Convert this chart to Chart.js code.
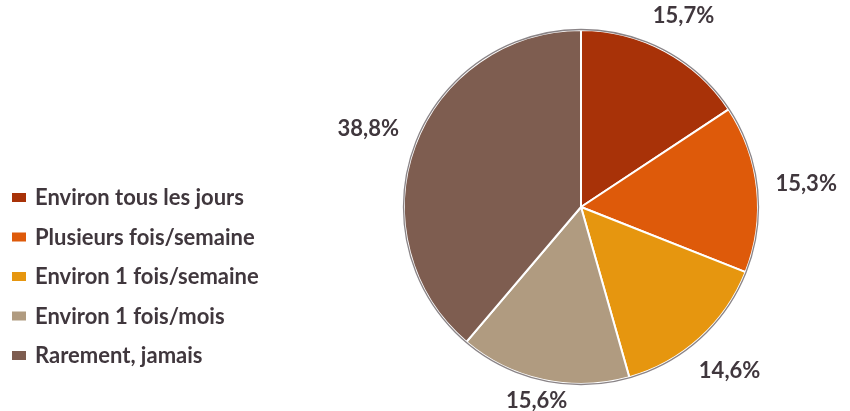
<!DOCTYPE html>
<html lang="fr">
<head>
<meta charset="utf-8">
<title>Fréquence</title>
<script src="https://cdn.jsdelivr.net/npm/chart.js@4.4.1/dist/chart.umd.min.js"></script>
<style>
  html, body { margin: 0; padding: 0; background: #fff; }
  #wrap { width: 850px; height: 411px; position: relative; }
</style>
</head>
<body>
<div id="wrap"><canvas id="chartFreq"></canvas></div>
<script>
// Catégories et parts (%)
const LABELS = ['Environ tous les jours', 'Plusieurs fois/semaine', 'Environ 1 fois/semaine', 'Environ 1 fois/mois', 'Rarement, jamais'];
const VALUES = [15.7, 15.3, 14.6, 15.6, 38.8];
const COLORS = ['#a83208', '#de5a0a', '#e6960f', '#b09b80', '#7e5d50'];

const TEXT_COLOR = '#40373d';
const FONT = 'bold 22px Lato, "Open Sans", sans-serif';

const fmt = v => v.toFixed(1).replace('.', ',') + '%';

// Légende à gauche, dessinée à la main
const sideLegend = {
  id: 'sideLegend',
  afterDraw(chart) {
    const ctx = chart.ctx;
    ctx.save();
    ctx.font = FONT;
    ctx.textBaseline = 'middle';
    LABELS.forEach((lab, i) => {
      const y = 198 + i * 39.5;
      ctx.fillStyle = COLORS[i];
      ctx.fillRect(12, y - 5, 14, 9);
      ctx.fillStyle = TEXT_COLOR;
      ctx.fillText(lab, 35, y);
    });
    ctx.restore();
  }
};

// Pourcentages à l'extérieur des parts + contour sombre
const outsideLabels = {
  id: 'outsideLabels',
  afterDatasetsDraw(chart) {
    const ctx = chart.ctx;
    const meta = chart.getDatasetMeta(0);
    const arc0 = meta.data[0];
    ctx.save();
    ctx.beginPath();
    ctx.arc(arc0.x, arc0.y, arc0.outerRadius + 0.5, 0, Math.PI * 2);
    ctx.strokeStyle = 'rgba(60,50,55,0.6)';
    ctx.lineWidth = 1.3;
    ctx.stroke();

    ctx.font = FONT;
    ctx.textAlign = 'center';
    ctx.textBaseline = 'middle';
    ctx.fillStyle = TEXT_COLOR;
    const H = chart.height;
    meta.data.forEach((arc, i) => {
      const mid = (arc.startAngle + arc.endAngle) / 2;
      const cx = Math.cos(mid), cy = Math.sin(mid);
      const txt = fmt(VALUES[i]);
      const w = ctx.measureText(txt).width, h = 16;
      const d = arc.outerRadius + 18 + Math.abs(cx) * w / 2 + Math.abs(cy) * h / 2;
      // garder le texte dans le canvas
      const y = Math.min(Math.max(arc.y + cy * d, h / 2 + 2), H - h / 2 - 2);
      ctx.fillText(txt, arc.x + cx * d, y);
    });
    ctx.restore();
  }
};

new Chart(document.getElementById('chartFreq'), {
  type: 'pie',
  data: {
    labels: LABELS,
    datasets: [{
      data: VALUES,
      backgroundColor: COLORS,
      borderColor: '#ffffff',
      borderWidth: 2
    }]
  },
  options: {
    responsive: true,
    maintainAspectRatio: false,
    animation: false,
    layout: { padding: { left: 403, right: 91, top: 29, bottom: 26 } },
    plugins: {
      legend: { display: false },
      tooltip: { enabled: false }
    }
  },
  plugins: [sideLegend, outsideLabels]
});
</script>
</body>
</html>
